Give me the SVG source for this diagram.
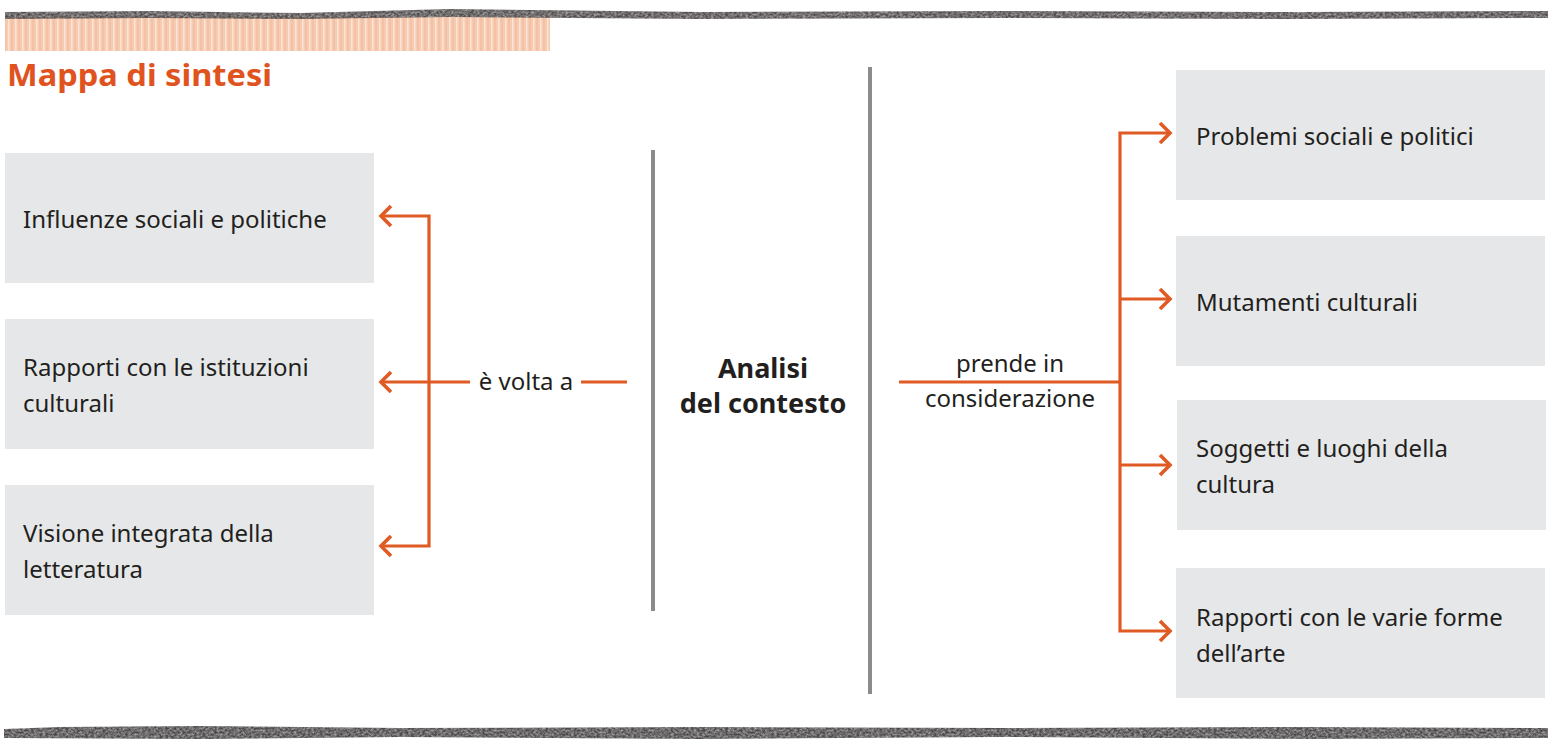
<svg xmlns="http://www.w3.org/2000/svg" width="1553" height="747" viewBox="0 0 1553 747">
<defs>
<style>
.box{fill:#e6e7e8}
.t{font-family:"Noto Sans","Liberation Sans",sans-serif;font-size:24px;fill:#231f20}
.c{fill:none;stroke:#e05a24;stroke-width:3.2;stroke-linecap:butt}
.ah{fill:none;stroke:#e05a24;stroke-width:3.6;stroke-linejoin:miter}
.sep{stroke:#8b8b8e;stroke-width:4}
.b{font-family:"Noto Sans","Liberation Sans",sans-serif;font-weight:bold;font-size:27px;fill:#231f20}
</style>
<pattern id="hatch" width="7" height="40" patternUnits="userSpaceOnUse">
<rect width="7" height="40" fill="#f6cbb2"/>
<rect x="1" width="1.5" height="40" fill="#fbe3d5"/>
<rect x="4.5" width="1" height="40" fill="#f2b896"/>
</pattern>
<filter id="pencil" x="0" y="-50%" width="100%" height="200%">
<feTurbulence type="fractalNoise" baseFrequency="0.35 0.5" numOctaves="3" seed="5" result="n"/>
<feColorMatrix in="n" type="matrix" values="0 0 0 0 0  0 0 0 0 0  0 0 0 0 0  0 0 0 -0.9 1.25" result="a"/>
<feComposite in="SourceGraphic" in2="a" operator="in"/>
</filter>
</defs>

<g id="header">
<rect x="5" y="17" width="545" height="34" fill="url(#hatch)"/>
<path d="M5 12 L150 11 L300 13 L450 9 L700 12 L1000 11 L1300 12 L1548 11 L1548 18 L1300 19 L1000 18 L700 19 L450 17 L300 19 L150 18 L5 19 Z" fill="#4f4b4b" filter="url(#pencil)"/>
<text x="7" y="86" font-family="'Noto Sans','Liberation Sans',sans-serif" font-weight="bold" font-size="31" fill="#e0531f" textLength="265" lengthAdjust="spacingAndGlyphs">Mappa di sintesi</text>
</g>

<g id="footer">
<path d="M4 729 L60 727 L200 726 L400 728 L700 727 L1000 728 L1300 727 L1548 728 L1548 738 L1300 739 L1000 737 L700 739 L400 737 L200 739 L4 738 Z" fill="#4a4747" filter="url(#pencil)"/>
</g>

<g id="separators">
<line class="sep" x1="653" y1="150" x2="653" y2="611"/>
<line class="sep" x1="870" y1="67" x2="870" y2="694"/>
</g>

<g id="center">
<text x="763" y="378" text-anchor="middle" class="b">Analisi</text>
<text x="763" y="413" text-anchor="middle" class="b">del contesto</text>
</g>

<g id="n-influenze">
<rect class="box" x="5" y="153" width="369" height="130"/>
<text class="t" x="23" y="228">Influenze sociali e politiche</text>
</g>
<g id="n-rapporti-ist">
<rect class="box" x="5" y="319" width="369" height="130"/>
<text class="t" x="23" y="376">Rapporti con le istituzioni</text>
<text class="t" x="23" y="412">culturali</text>
</g>
<g id="n-visione">
<rect class="box" x="5" y="485" width="369" height="130"/>
<text class="t" x="23" y="542">Visione integrata della</text>
<text class="t" x="23" y="578">letteratura</text>
</g>

<g id="n-problemi">
<rect class="box" x="1176" y="70" width="369" height="130"/>
<text class="t" x="1196" y="145">Problemi sociali e politici</text>
</g>
<g id="n-mutamenti">
<rect class="box" x="1176" y="236" width="369" height="130"/>
<text class="t" x="1196" y="311">Mutamenti culturali</text>
</g>
<g id="n-soggetti">
<rect class="box" x="1177" y="400" width="369" height="130"/>
<text class="t" x="1196" y="457">Soggetti e luoghi della</text>
<text class="t" x="1196" y="493">cultura</text>
</g>
<g id="n-rapporti-arte">
<rect class="box" x="1176" y="568" width="369" height="130"/>
<text class="t" x="1196" y="626">Rapporti con le varie forme</text>
<text class="t" x="1196" y="662">dell’arte</text>
</g>

<g id="connectors">
<polyline class="c" points="382,216 429,216 429,546 382,546"/>
<line class="c" x1="382" y1="382" x2="470" y2="382"/>
<line class="c" x1="581" y1="382" x2="627" y2="382"/>
<text x="526" y="390" text-anchor="middle" class="t">è volta a</text>
<path class="ah" d="M391,206 L381,216 L391,226"/>
<path class="ah" d="M391,372 L381,382 L391,392"/>
<path class="ah" d="M391,536 L381,546 L391,556"/>

<line class="c" x1="899" y1="382" x2="1120" y2="382"/>
<polyline class="c" points="1168,133 1120,133 1120,631 1168,631"/>
<line class="c" x1="1120" y1="299" x2="1168" y2="299"/>
<line class="c" x1="1120" y1="465" x2="1168" y2="465"/>
<text x="1010" y="372" text-anchor="middle" class="t">prende in</text>
<text x="1010" y="407" text-anchor="middle" class="t">considerazione</text>
<path class="ah" d="M1160,123 L1170,133 L1160,143"/>
<path class="ah" d="M1160,289 L1170,299 L1160,309"/>
<path class="ah" d="M1160,455 L1170,465 L1160,475"/>
<path class="ah" d="M1160,621 L1170,631 L1160,641"/>
</g>
</svg>
